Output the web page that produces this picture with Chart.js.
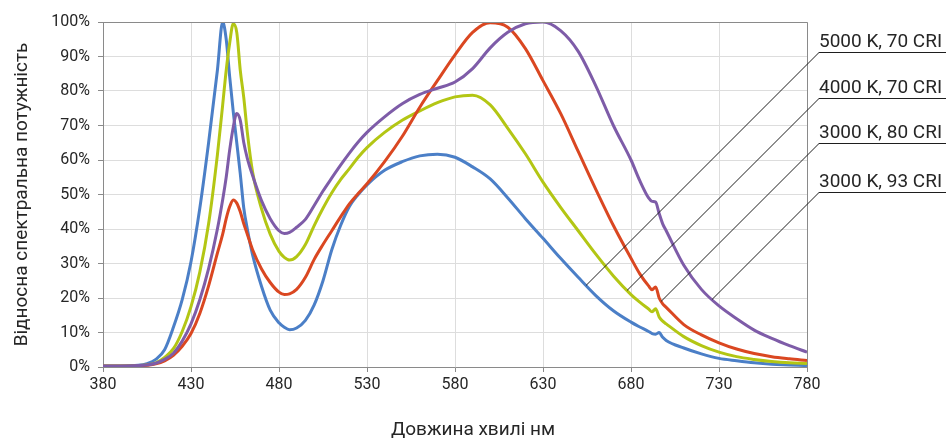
<!DOCTYPE html>
<html>
<head>
<meta charset="utf-8">
<script src="https://cdn.jsdelivr.net/npm/chart.js@4.4.0/dist/chart.umd.min.js"></script>
<style>
  html, body { margin: 0; padding: 0; background: #fff; }
</style>
</head>
<body>
<canvas id="spectrum" width="946" height="440"></canvas>
<script>
// wavelength grid, nm
const wavelengths = [380, 390, 400, 405, 410, 415, 420, 425, 430, 435,
  440, 445, 448, 450, 452, 454, 456, 458, 460, 462,
  465, 470, 475, 480, 483, 486, 490, 495, 500, 505,
  510, 515, 520, 525, 530, 540, 550, 560, 570, 580,
  590, 600, 610, 620, 630, 640, 650, 660, 670, 680,
  685, 690, 692, 694, 696, 698, 700, 710, 720, 730,
  740, 750, 760, 770, 780];

// relative spectral power, %
const k5000cri70 = [0.3, 0.3, 0.5, 1.0, 2.2, 5, 11.5, 19.5, 30.5, 46,
  65, 86, 100, 95, 84, 74, 65, 56, 46, 40,
  32.5, 23.5, 16.5, 12.8, 11.5, 10.8, 11.3, 13.5, 18, 25,
  34, 41, 46.5, 50, 52.8, 57, 59.5, 61.2, 61.7, 60.8,
  58, 54.5, 49, 43, 37.3, 31.5, 26, 20.7, 16.3, 13,
  11.6, 10.3, 9.7, 9.5, 10, 8.6, 7.7, 5.5, 3.8, 2.5,
  1.8, 1.2, 0.8, 0.6, 0.4];
const k4000cri70 = [0.3, 0.3, 0.4, 0.6, 1.2, 2.8, 5.3, 10.3, 17.5, 27.5,
  41.5, 61.5, 76, 86, 94, 99.5, 97, 86, 78, 68,
  56.5, 46, 38.5, 33.5, 31.8, 31, 32, 35.5, 41, 46,
  50.5, 54.3, 57.5, 60.8, 63.6, 68, 71.5, 74.2, 76.6, 78.3,
  78.8, 76, 69.2, 61.8, 53.6, 46.3, 39.5, 32.7, 26.4, 21,
  18.8, 16.8, 16, 16.9, 14.5, 13.3, 12.5, 8.8, 6.2, 4.3,
  3, 2.2, 1.6, 1.2, 1];
const k3000cri80 = [0.2, 0.2, 0.3, 0.5, 0.9, 1.8, 3.4, 6, 9.7, 15.5,
  23.5, 33, 38.5, 43, 46.5, 48.4, 47.5, 45, 41.5, 38.5,
  34, 28.5, 24.5, 21.7, 21, 21.2, 22.5, 26, 31.2, 35.5,
  39.5, 43.5, 47.3, 50.3, 53.1, 59.5, 66.8, 75.3, 83, 90.5,
  97, 99.8, 98.5, 92.3, 83, 73.5, 62.5, 51.5, 41, 31.5,
  27, 23.5, 22.4, 23.2, 20, 18.3, 17.3, 12.3, 9.3, 7,
  5.2, 3.9, 3, 2.4, 1.9];
const k3000cri93 = [0.3, 0.3, 0.4, 0.6, 1.1, 2.2, 4, 7.5, 12.5, 19.5,
  28.5, 40, 48.5, 55, 63, 69.5, 73.5, 71.5, 65, 60.5,
  55.5, 48.3, 43, 39.5, 38.7, 39, 40.5, 42.8, 46.8, 51,
  54.8, 58.5, 62, 65.2, 68, 72.5, 76.3, 79, 80.8, 82.6,
  86.5, 92.5, 97, 99.5, 100, 97.5, 91.5, 81.5, 70, 60,
  54, 49, 48, 47.8, 44.5, 41.5, 39.5, 29.5, 22.5, 17.7,
  14, 10.7, 8.3, 6.2, 4.3];

const seriesNames = ['5000 K, 70 CRI', '4000 K, 70 CRI', '3000 K, 80 CRI', '3000 K, 93 CRI'];
const seriesValues = [k5000cri70, k4000cri70, k3000cri80, k3000cri93];
const seriesColors = ['#4b7fc7', '#b3c614', '#da4721', '#7e5ca8'];

const FONT = 'Roboto, "Noto Sans", sans-serif';
const TEXT = '#262626';

// labels on the right with 45 degree leader lines to the curves
const calloutRows = [52, 98, 143, 192];
const callouts = {
  id: 'callouts',
  afterDatasetsDraw(chart) {
    const ctx = chart.ctx;
    const area = chart.chartArea;
    ctx.save();

    // frame around the plot
    ctx.strokeStyle = '#8a8a8a';
    ctx.lineWidth = 1;
    ctx.beginPath();
    ctx.moveTo(area.left, area.top + 0.5);
    ctx.lineTo(area.right + 0.5, area.top + 0.5);
    ctx.lineTo(area.right + 0.5, area.bottom);
    ctx.stroke();

    ctx.font = '19px ' + FONT;
    ctx.fillStyle = TEXT;
    ctx.textBaseline = 'alphabetic';
    ctx.strokeStyle = '#1e1e1e';
    calloutRows.forEach((rowY, i) => {
      const x0 = area.right + 12;
      const y0 = rowY + 0.5;
      ctx.fillText(seriesNames[i], x0, rowY - 5);
      ctx.beginPath();
      ctx.moveTo(x0, y0);
      ctx.lineTo(chart.width, y0);

      // find where a 45 degree line from the label meets the curve
      const pts = chart.getDatasetMeta(i).data;
      const c = x0 + y0;
      let hit = null;
      for (let k = pts.length - 1; k > 0; k--) {
        const a = pts[k], b = pts[k - 1];
        const fa = a.x + a.y - c, fb = b.x + b.y - c;
        if (fa >= 0 && fb < 0) {
          const t = fa / (fa - fb);
          hit = { x: a.x + (b.x - a.x) * t, y: a.y + (b.y - a.y) * t };
          break;
        }
      }
      if (hit) {
        ctx.moveTo(x0, y0);
        ctx.lineTo(hit.x, hit.y);
      }
      ctx.stroke();
    });

    // x axis title, centred on the whole picture
    ctx.font = '19px ' + FONT;
    ctx.textAlign = 'center';
    ctx.textBaseline = 'middle';
    ctx.fillText('Довжина хвилі нм', chart.width / 2, 430);
    ctx.restore();
  }
};

const datasets = seriesNames.map((name, i) => ({
  label: name,
  data: wavelengths.map((w, j) => ({ x: w, y: seriesValues[i][j] })),
  borderColor: seriesColors[i],
  borderWidth: 3,
  pointRadius: 0,
  fill: false,
  cubicInterpolationMode: 'monotone',
  order: 4 - i
}));

new Chart(document.getElementById('spectrum'), {
  type: 'line',
  data: { datasets },
  options: {
    responsive: false,
    animation: false,
    layout: { padding: { top: 22, right: 139, bottom: 0, left: 0 } },
    plugins: {
      legend: { display: false },
      tooltip: { enabled: false }
    },
    scales: {
      x: {
        type: 'linear',
        min: 380,
        max: 780,
        ticks: { stepSize: 50, color: TEXT, font: { family: FONT, size: 16 }, padding: 3, maxRotation: 0 },
        grid: { color: '#dddddd', tickColor: '#8a8a8a', tickLength: 5 },
        border: { color: '#8a8a8a', width: 1 },
        afterFit(axis) { axis.height = 73; }
      },
      y: {
        min: 0,
        max: 100,
        ticks: { stepSize: 10, color: TEXT, font: { family: FONT, size: 16 }, padding: 8,
          callback: v => v + '%' },
        grid: { color: '#dddddd', tickColor: '#8a8a8a', tickLength: 5 },
        border: { color: '#8a8a8a', width: 1 },
        title: { display: true, text: 'Відносна спектральна потужність', color: TEXT,
          font: { family: FONT, size: 19 }, padding: { top: 11, bottom: 0 } },
        afterFit(axis) { axis.width = 103; }
      }
    }
  },
  plugins: [callouts]
});
</script>
</body>
</html>
